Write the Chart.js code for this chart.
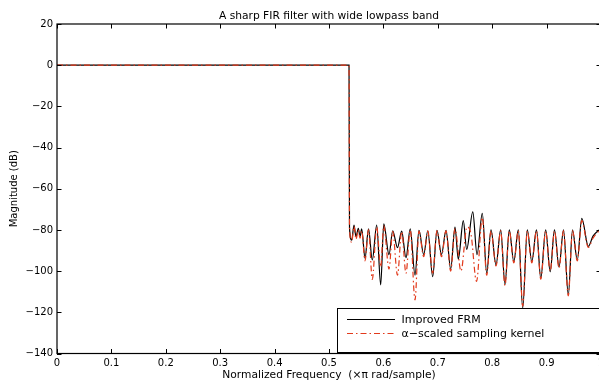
<!DOCTYPE html>
<html>
<head>
<meta charset="utf-8">
<script src="https://cdn.jsdelivr.net/npm/chart.js@4.4.1/dist/chart.umd.min.js"></script>
<style>
  body { margin: 0; overflow: hidden; background: #fff; }
</style>
</head>
<body>
<canvas id="myChartFilter" width="610" height="381"></canvas>
<script>
const titleText = 'A sharp FIR filter with wide lowpass band';
const xTitle = 'Normalized Frequency  (\u00d7\u03c0 rad/sample)';
const yTitle = 'Magnitude (dB)';
const seriesLabels = ['Improved FRM', '\u03b1\u2212scaled sampling kernel'];

const xTicks = [0, 0.1, 0.2, 0.3, 0.4, 0.5, 0.6, 0.7, 0.8, 0.9, 1];
const yTicks = [20, 0, -20, -40, -60, -80, -100, -120, -140];

// Improved FRM (black, solid)
const frmFreq = [
  0, 0.2, 0.5368,
  0.5377, 0.5417, 0.5460, 0.5496, 0.5539, 0.5570, 0.5601,
  0.5662, 0.5726, 0.5796, 0.5877, 0.5950, 0.6007,
  0.6103, 0.6171, 0.6259, 0.6336, 0.6415, 0.6493,
  0.6581, 0.6654, 0.6741, 0.6816, 0.6906, 0.6985,
  0.7068, 0.7151, 0.7237, 0.7316, 0.7377, 0.7469,
  0.7531, 0.7643, 0.7721, 0.7818, 0.7899, 0.7978,
  0.8070, 0.8156, 0.8235, 0.8314, 0.8397, 0.8480,
  0.8561, 0.8645, 0.8728, 0.8814, 0.8893, 0.8983,
  0.9066, 0.9145, 0.9228, 0.9311, 0.9399, 0.9476,
  0.9564, 0.9647, 0.9767, 0.9853, 0.9945, 1.0
];
const frmMag = [
  0, 0, 0,
  -79, -85, -77.6, -83.3, -79.2, -83.3, -79.5,
  -93.8, -79.5, -94.6, -77.6, -106.7, -77.1,
  -92, -80.4, -88.6, -80.6, -93.5, -79.5,
  -102, -80.2, -92, -80.4, -102.7, -80.2,
  -92, -80.2, -99, -78.6, -94.2, -75.5,
  -89.5, -71.2, -92, -72, -101, -80,
  -97, -80, -106.5, -80, -95.4, -80,
  -118, -80, -95.4, -80, -103.5, -80,
  -100.3, -80, -98, -80, -111.5, -80,
  -94.6, -74.4, -88, -83, -80.5, -79.5
];

// alpha-scaled sampling kernel (red, dash-dot)
const kernelFreq = [
  0, 0.2, 0.5368,
  0.5377, 0.5417, 0.5460, 0.5496, 0.5539, 0.5570, 0.5601,
  0.5662, 0.5726, 0.5796, 0.5877, 0.5950, 0.6007,
  0.6103, 0.6171, 0.6259, 0.6336, 0.6415, 0.6493,
  0.6581, 0.6654, 0.6741, 0.6816, 0.6906, 0.6985,
  0.7068, 0.7151, 0.7237, 0.7316, 0.7426, 0.7537,
  0.7610, 0.7712, 0.7818, 0.7899, 0.7978,
  0.8070, 0.8156, 0.8235, 0.8314, 0.8397, 0.8480,
  0.8561, 0.8645, 0.8728, 0.8814, 0.8893, 0.8983,
  0.9066, 0.9145, 0.9228, 0.9311, 0.9399, 0.9476,
  0.9564, 0.9647, 0.9767, 0.9853, 0.9945, 1.0
];
const kernelMag = [
  0, 0, 0,
  -79, -86, -78.3, -84.5, -80, -84, -80.5,
  -95, -80, -104, -78.5, -98, -78,
  -99, -80.8, -102, -80.8, -101, -80,
  -114, -80.6, -93, -80.6, -101, -80.5,
  -93, -80.5, -100, -79.5, -100, -78.5,
  -82, -105, -74, -102, -80.5,
  -97.5, -80.5, -107, -80.5, -96, -80.5,
  -117, -80.5, -96, -80.5, -104, -80.5,
  -100, -80.5, -98.5, -80.5, -112, -80.5,
  -95, -75.5, -88.5, -84, -81, -80
];

const redColor = 'rgb(226, 58, 28)';
const fontFamily = '"DejaVu Sans", sans-serif';

const toPoints = (xs, ys) => xs.map((x, i) => ({ x: x, y: ys[i] }));

const minusLabel = v => (v < 0 ? '\u2212' + Math.abs(v) : String(v));

// axes box, inward ticks, title and legend, matlab style
const matlabFrame = {
    id: 'matlabFrame',
    afterDatasetsDraw(chart) {
        const { ctx, chartArea: a, scales } = chart;
        const tl = 4.5;
        ctx.save();
        ctx.strokeStyle = '#000';
        ctx.lineWidth = 1;
        ctx.beginPath();
        xTicks.forEach(v => {
            const px = Math.round(scales.x.getPixelForValue(v)) + 0.5;
            ctx.moveTo(px, a.bottom); ctx.lineTo(px, a.bottom - tl);
            ctx.moveTo(px, a.top); ctx.lineTo(px, a.top + tl);
        });
        yTicks.forEach(v => {
            const py = Math.round(scales.y.getPixelForValue(v)) + 0.5;
            ctx.moveTo(a.left, py); ctx.lineTo(a.left + tl, py);
            ctx.moveTo(a.right, py); ctx.lineTo(a.right - tl, py);
        });
        ctx.stroke();

        // legend box (south east)
        const lx = 337.5, ly = 308.5, lw = 270, lh = 44;
        ctx.fillStyle = '#fff';
        ctx.fillRect(lx, ly, lw, lh);
        ctx.strokeRect(lx, ly, lw, lh);

        ctx.lineWidth = 1.2;
        ctx.beginPath();
        ctx.moveTo(347, 319.5); ctx.lineTo(395, 319.5);
        ctx.stroke();

        ctx.strokeStyle = redColor;
        ctx.lineWidth = 1.2;
        ctx.setLineDash([6, 3, 1.5, 3]);
        ctx.beginPath();
        ctx.moveTo(347, 333.5); ctx.lineTo(395, 333.5);
        ctx.stroke();
        ctx.setLineDash([]);

        ctx.fillStyle = '#000';
        ctx.font = '11px ' + fontFamily;
        ctx.textAlign = 'left';
        ctx.textBaseline = 'middle';
        ctx.fillText(seriesLabels[0], 401.5, 320);
        ctx.fillText(seriesLabels[1], 401.5, 334);

        // frame
        ctx.strokeStyle = '#000';
        ctx.lineWidth = 1.2;
        ctx.strokeRect(a.left, a.top, a.right - a.left, a.bottom - a.top);

        // title
        ctx.font = '10.7px ' + fontFamily;
        ctx.textAlign = 'center';
        ctx.textBaseline = 'alphabetic';
        ctx.fillText(titleText, (a.left + a.right) / 2, 18.5);
        ctx.restore();
    }
};

const ctx = document.getElementById('myChartFilter').getContext('2d');

new Chart(ctx, {
    type: 'line',
    data: {
        datasets: [
            {
                label: seriesLabels[0],
                data: toPoints(frmFreq, frmMag),
                borderColor: '#000',
                borderWidth: 1.2,
                pointRadius: 0,
                cubicInterpolationMode: 'monotone',
                order: 1
            },
            {
                label: seriesLabels[1],
                data: toPoints(kernelFreq, kernelMag),
                borderColor: redColor,
                borderWidth: 1.2,
                borderDash: [6, 3, 1.5, 3],
                pointRadius: 0,
                cubicInterpolationMode: 'monotone',
                order: 0
            }
        ]
    },
    options: {
        responsive: false,
        animation: false,
        devicePixelRatio: 1,
        layout: {
            padding: { top: 24, right: 9, left: 0, bottom: 0 }
        },
        plugins: {
            legend: { display: false },
            title: { display: false },
            tooltip: { enabled: false }
        },
        scales: {
            x: {
                type: 'linear',
                min: 0,
                max: 1,
                afterBuildTicks: scale => { scale.ticks = xTicks.map(v => ({ value: v })); },
                afterFit: scale => { scale.height = 27.5; },
                grid: { display: false, drawTicks: false },
                border: { display: false },
                ticks: {
                    color: '#000',
                    padding: 4,
                    maxRotation: 0,
                    autoSkip: false,
                    font: { family: fontFamily, size: 10 },
                    callback: v => String(v)
                },
                title: {
                    display: true,
                    text: xTitle,
                    color: '#000',
                    font: { family: fontFamily, size: 10.7, lineHeight: 1 },
                    padding: { top: 0, bottom: 0 }
                }
            },
            y: {
                type: 'linear',
                min: -140,
                max: 20,
                afterBuildTicks: scale => { scale.ticks = yTicks.map(v => ({ value: v })); },
                afterFit: scale => { scale.width = 57; },
                grid: { display: false, drawTicks: false },
                border: { display: false },
                ticks: {
                    color: '#000',
                    padding: 4,
                    autoSkip: false,
                    font: { family: fontFamily, size: 10 },
                    callback: v => minusLabel(v)
                },
                title: {
                    display: true,
                    text: yTitle,
                    color: '#000',
                    font: { family: fontFamily, size: 10 },
                    padding: { top: 8.5, bottom: 0 }
                }
            }
        }
    },
    plugins: [matlabFrame]
});
</script>
</body>
</html>
